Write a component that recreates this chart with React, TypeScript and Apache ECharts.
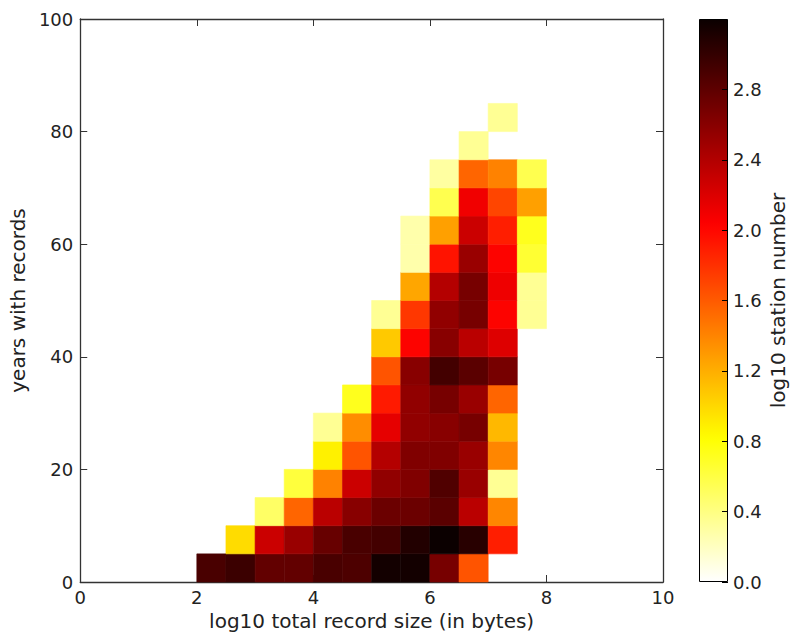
import React, { useEffect, useRef } from "react";
import * as echarts from "echarts";

// x bin starts (log10 total record size), bin width 0.5
const xBinStarts = [2.0, 2.5, 3.0, 3.5, 4.0, 4.5, 5.0, 5.5, 6.0, 6.5, 7.0, 7.5];
// y bin starts (years with records), bin height 5
const yBinStarts = [0, 5, 10, 15, 20, 25, 30, 35, 40, 45, 50, 55, 60, 65, 70, 75, 80];
// log10 station number per cell, one row per y bin, columns follow xBinStarts (null = empty)
const row00 = [2.90, 2.97, 2.78, 2.78, 2.90, 2.88, 3.16, 3.16, 2.68, 1.63, null, null];
const row05 = [null, 0.98, 2.28, 2.52, 2.76, 2.90, 2.93, 3.09, 3.20, 3.06, 1.89, null];
const row10 = [null, null, 0.49, 1.55, 2.36, 2.60, 2.74, 2.74, 2.82, 2.36, 1.39, null];
const row15 = [null, null, null, 0.62, 1.41, 2.28, 2.56, 2.64, 2.87, 2.52, 0.34, null];
const row20 = [null, null, null, null, 0.88, 1.63, 2.39, 2.64, 2.64, 2.52, 1.39, null];
const row25 = [null, null, null, null, 0.34, 1.36, 2.15, 2.56, 2.60, 2.68, 1.15, null];
const row30 = [null, null, null, null, null, 0.72, 1.91, 2.56, 2.68, 2.52, 1.55, null];
const row35 = [null, null, null, null, null, null, 1.63, 2.60, 2.93, 2.82, 2.68, null];
const row40 = [null, null, null, null, null, null, 1.07, 2.03, 2.60, 2.36, 2.19, null];
const row45 = [null, null, null, null, null, null, 0.34, 1.77, 2.56, 2.68, 2.03, 0.34];
const row50 = [null, null, null, null, null, null, null, 1.24, 2.39, 2.68, 2.11, 0.34];
const row55 = [null, null, null, null, null, null, null, 0.27, 1.94, 2.52, 2.03, 0.65];
const row60 = [null, null, null, null, null, null, null, 0.27, 1.27, 2.28, 1.89, 0.72];
const row65 = [null, null, null, null, null, null, null, null, 0.56, 2.10, 1.70, 1.27];
const row70 = [null, null, null, null, null, null, null, null, 0.30, 1.55, 1.41, 0.56];
const row75 = [null, null, null, null, null, null, null, null, null, 0.34, null, null];
const row80 = [null, null, null, null, null, null, null, null, null, null, 0.34, null];
const rows = [row00, row05, row10, row15, row20, row25, row30, row35, row40, row45, row50, row55, row60, row65, row70, row75, row80];

const xTicks = [0, 2, 4, 6, 8, 10];
const yTicks = [0, 20, 40, 60, 80, 100];
const colorbarMax = 3.2;

const X_BIN = 0.5;
const Y_BIN = 5;

function hotR(t: number): string {
  const s = 1 - Math.min(1, Math.max(0, t));
  const a = 0.365079;
  const b = 0.746032;
  const r = s < a ? 0.0416 + (1 - 0.0416) * (s / a) : 1;
  const g = s < a ? 0 : s < b ? (s - a) / (b - a) : 1;
  const bl = s < b ? 0 : (s - b) / (1 - b);
  const h = (v: number) => Math.round(v * 255);
  return `rgb(${h(r)},${h(g)},${h(bl)})`;
}

const N_STOPS = 64;
const colorList: string[] = [];
for (let i = 0; i <= N_STOPS; i++) colorList.push(hotR(i / N_STOPS));

export default function App() {
  const ref = useRef<HTMLDivElement>(null);
  useEffect(() => {
    if (!ref.current) return;
    const chart = echarts.init(ref.current, null, { renderer: "svg" });
    const cells: number[][] = [];
    rows.forEach((row, j) => {
      row.forEach((v, i) => {
        if (v !== null) cells.push([xBinStarts[i], yBinStarts[j], v]);
      });
    });
    const font = "DejaVu Sans";
    const axisColor = "#333";
    const textColor = "#222";
    const tickFs = 18;
    const labelFs = 20;
    const gradStops = colorList.map((c, i) => ({ offset: i / N_STOPS, color: c }));
    const option: any = {
      animation: false,
      backgroundColor: "#fff",
      textStyle: { fontFamily: font },
      grid: [
        { left: 80, top: 19, width: 583, height: 563 },
        { left: 699, top: 19, width: 29, height: 563 },
      ],
      xAxis: [
        {
          type: "value", gridIndex: 0, min: 0, max: 10, interval: 2,
          name: "log10 total record size (in bytes)", nameLocation: "middle", nameGap: 26,
          nameTextStyle: { fontSize: labelFs, color: textColor, fontFamily: font },
          axisLine: { show: true, onZero: false, lineStyle: { color: axisColor, width: 1.3 } },
          axisTick: { show: true, inside: true, length: 7, lineStyle: { color: axisColor } },
          axisLabel: { fontSize: tickFs, color: textColor, fontFamily: font, margin: 6,
            formatter: (v: number) => (xTicks.includes(v) ? String(v) : "") },
          splitLine: { show: false },
        },
        {
          type: "value", gridIndex: 0, min: 0, max: 10, interval: 2, position: "top",
          axisLine: { show: true, onZero: false, lineStyle: { color: axisColor, width: 1.3 } },
          axisTick: { show: true, inside: true, length: 7, lineStyle: { color: axisColor } },
          axisLabel: { show: false }, splitLine: { show: false },
        },
        {
          type: "category", gridIndex: 1, data: ["c"], show: false,
        },
      ],
      yAxis: [
        {
          type: "value", gridIndex: 0, min: 0, max: 100, interval: 20,
          name: "years with records", nameLocation: "middle", nameGap: 48,
          nameTextStyle: { fontSize: labelFs, color: textColor, fontFamily: font },
          axisLine: { show: true, onZero: false, lineStyle: { color: axisColor, width: 1.3 } },
          axisTick: { show: true, inside: true, length: 7, lineStyle: { color: axisColor } },
          axisLabel: { fontSize: tickFs, color: textColor, fontFamily: font, margin: 7,
            formatter: (v: number) => (yTicks.includes(v) ? String(v) : "") },
          splitLine: { show: false },
        },
        {
          type: "value", gridIndex: 0, min: 0, max: 100, interval: 20, position: "right",
          axisLine: { show: true, onZero: false, lineStyle: { color: axisColor, width: 1.3 } },
          axisTick: { show: true, inside: true, length: 7, lineStyle: { color: axisColor } },
          axisLabel: { show: false }, splitLine: { show: false },
        },
        {
          type: "value", gridIndex: 1, min: 0, max: colorbarMax, interval: 0.4, position: "right",
          z: 5,
          name: "log10 station number", nameLocation: "middle", nameGap: 40, nameRotate: 90,
          nameTextStyle: { fontSize: labelFs, color: textColor, fontFamily: font },
          axisLine: { show: false },
          axisTick: { show: true, inside: true, length: 6, lineStyle: { color: "#000" } },
          axisLabel: { fontSize: tickFs, color: textColor, fontFamily: font, margin: 5,
            showMaxLabel: false, formatter: (v: number) => v.toFixed(1) },
          splitLine: { show: false },
        },
      ],
      visualMap: {
        show: false, type: "continuous", min: 0, max: colorbarMax, dimension: 2,
        seriesIndex: 0, inRange: { color: colorList },
      },
      series: [
        {
          type: "custom", xAxisIndex: 0, yAxisIndex: 0,
          encode: { x: 0, y: 1 },
          data: cells,
          renderItem: (params: any, api: any) => {
            const x0 = api.value(0);
            const y0 = api.value(1);
            const p0 = api.coord([x0, y0]);
            const p1 = api.coord([x0 + X_BIN, y0 + Y_BIN]);
            const color = api.visual("color");
            return {
              type: "rect",
              shape: { x: p0[0], y: p1[1], width: p1[0] - p0[0], height: p0[1] - p1[1] },
              style: { fill: color, stroke: color, lineWidth: 0.6 },
            };
          },
        },
        {
          type: "bar", xAxisIndex: 2, yAxisIndex: 2, barWidth: "100%",
          data: [colorbarMax], silent: true,
          itemStyle: {
            color: new echarts.graphic.LinearGradient(0, 1, 0, 0, gradStops),
            borderColor: "#000", borderWidth: 1,
          },
        },
      ],
    };
    chart.setOption(option);
    return () => chart.dispose();
  }, []);
  return (
    <div
      ref={ref}
      style={{ position: "fixed", left: 0, top: 0, width: 791, height: 637, background: "#fff" }}
    />
  );
}
